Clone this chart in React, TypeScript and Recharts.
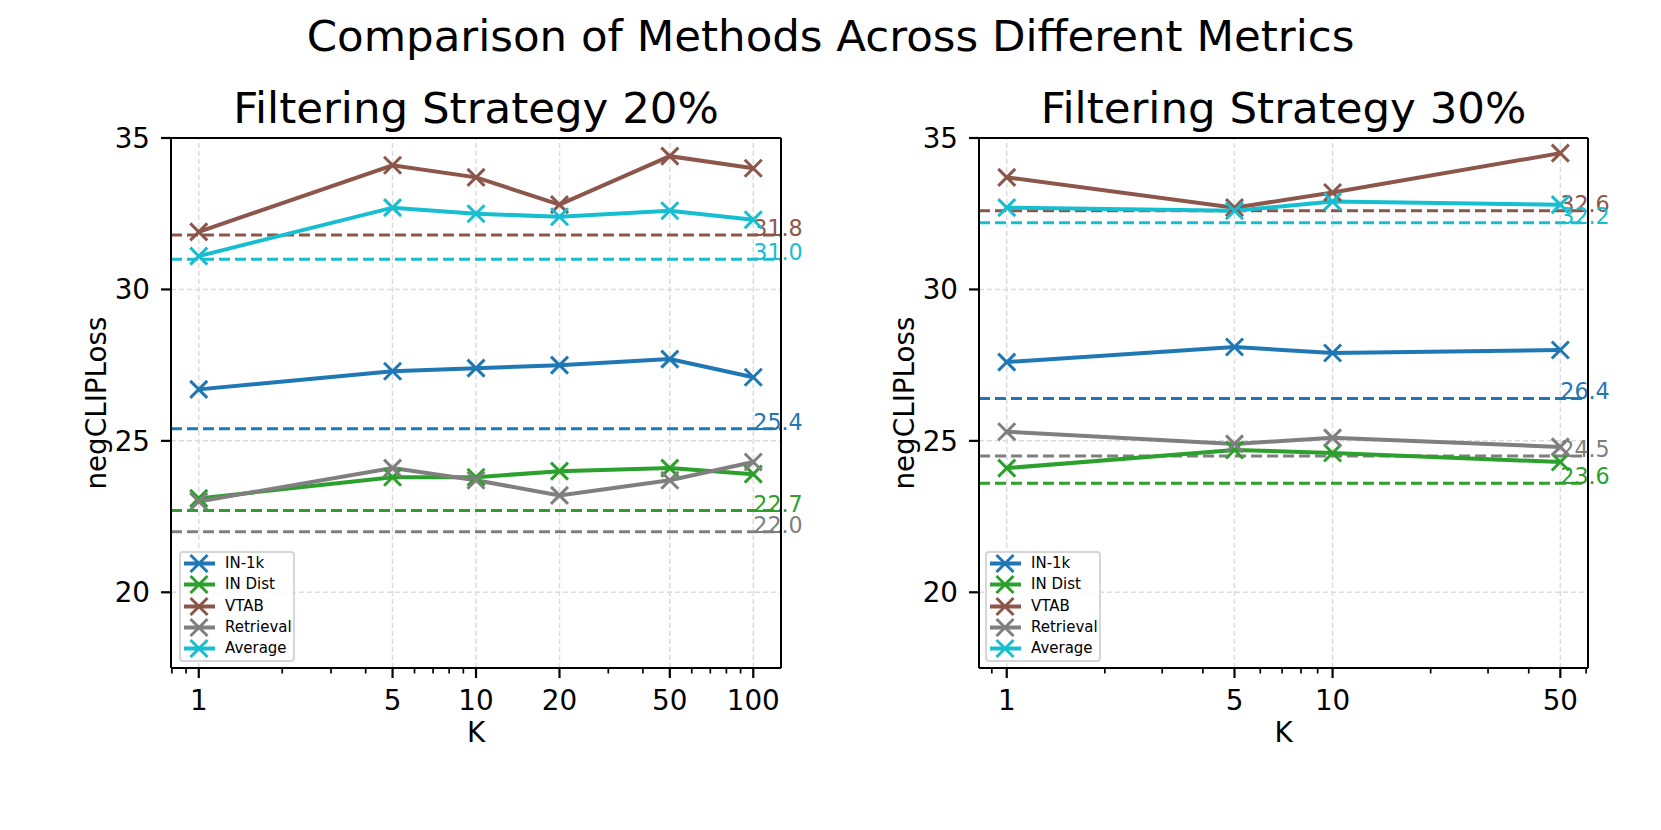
import React from 'react';
import { LineChart, Line, XAxis, YAxis, CartesianGrid, ReferenceLine, ReferenceDot, Legend } from 'recharts';

const FONT = '"DejaVu Sans", sans-serif';

// ---- Data ----
const SERIES_KEYS = ['in1k', 'indist', 'vtab', 'retrieval', 'average'];
const SERIES_NAMES = ['IN-1k', 'IN Dist', 'VTAB', 'Retrieval', 'Average'];
const SERIES_COLORS = ['#1f77b4', '#2ca02c', '#8c564b', '#7f7f7f', '#17becf'];

// Filtering Strategy 20%
const K_20 = [1, 5, 10, 20, 50, 100];
const IN1K_20 = [26.7, 27.3, 27.4, 27.5, 27.7, 27.1];
const INDIST_20 = [23.1, 23.8, 23.8, 24.0, 24.1, 23.9];
const VTAB_20 = [31.9, 34.1, 33.7, 32.8, 34.4, 34.0];
const RETRIEVAL_20 = [23.0, 24.1, 23.7, 23.2, 23.7, 24.3];
const AVERAGE_20 = [31.1, 32.7, 32.5, 32.4, 32.6, 32.3];
const BASELINE_20 = [25.4, 22.7, 31.8, 22.0, 31.0];

// Filtering Strategy 30%
const K_30 = [1, 5, 10, 50];
const IN1K_30 = [27.6, 28.1, 27.9, 28.0];
const INDIST_30 = [24.1, 24.7, 24.6, 24.3];
const VTAB_30 = [33.7, 32.7, 33.2, 34.5];
const RETRIEVAL_30 = [25.3, 24.9, 25.1, 24.8];
const AVERAGE_30 = [32.7, 32.6, 32.9, 32.8];
const BASELINE_30 = [26.4, 23.6, 32.6, 24.5, 32.2];

// Axes
const Y_TICKS = [20, 25, 30, 35];
const Y_DOMAIN = [17.5, 35];
const X_DOMAIN_20 = [0.794, 125.9];
const X_DOMAIN_30 = [0.822, 60.8];
const MINOR_20 = [0.8, 0.9, 2, 3, 4, 6, 7, 8, 9, 30, 40, 60, 70, 80, 90];
const MINOR_30 = [0.9, 2, 3, 4, 6, 7, 8, 9, 20, 30, 40, 60];

const MAIN_TITLE = 'Comparison of Methods Across Different Metrics';
const TITLE_20 = 'Filtering Strategy 20%';
const TITLE_30 = 'Filtering Strategy 30%';
const Y_LABEL = 'negCLIPLoss';
const X_LABEL = 'K';

function buildRows(ks: number[], series: number[][]) {
  return ks.map((k, i) => {
    const row: any = { K: k };
    SERIES_KEYS.forEach((key, j) => {
      row[key] = series[j][i];
    });
    return row;
  });
}

const DATA_20 = buildRows(K_20, [IN1K_20, INDIST_20, VTAB_20, RETRIEVAL_20, AVERAGE_20]);
const DATA_30 = buildRows(K_30, [IN1K_30, INDIST_30, VTAB_30, RETRIEVAL_30, AVERAGE_30]);

const GRID_COLOR = '#dcdcdc';

const makeXMarker = (color: string) => (props: any) => {
  const { cx, cy, index } = props;
  if (cx == null || cy == null) return <g key={`m-${index}`} />;
  const h = 8.5;
  return (
    <g key={`m-${index}`}>
      <line x1={cx - h} y1={cy - h} x2={cx + h} y2={cy + h} stroke={color} strokeWidth={3} />
      <line x1={cx - h} y1={cy + h} x2={cx + h} y2={cy - h} stroke={color} strokeWidth={3} />
    </g>
  );
};

const makeXTick = (majors: number[]) => (props: any) => {
  const { x, y, payload } = props;
  const isMajor = majors.includes(payload.value);
  return (
    <g>
      <line x1={x} x2={x} y1={y} y2={y + (isMajor ? 10 : 5.5)} stroke="#000" strokeWidth={isMajor ? 2.2 : 1.7} />
      {isMajor && (
        <text x={x} y={y + 42} textAnchor="middle" fontSize={27.8} fontFamily={FONT} fill="#000">
          {payload.value}
        </text>
      )}
    </g>
  );
};

const LegendBox = () => (
  <div
    style={{
      width: 116,
      height: 111,
      boxSizing: 'border-box',
      border: '2px solid #d6d6d6',
      borderRadius: 4,
      background: 'rgba(255,255,255,0.8)',
      paddingTop: 0,
      fontFamily: FONT,
      fontSize: 15,
      color: '#000',
    }}
  >
    {SERIES_NAMES.map((name, i) => (
      <div key={name} style={{ display: 'flex', alignItems: 'center', height: 21.25 }}>
        <svg width={36} height={21} style={{ display: 'block', flex: 'none' }}>
          <line x1={3} x2={34} y1={10.5} y2={10.5} stroke={SERIES_COLORS[i]} strokeWidth={4} />
          <line x1={18 - 8.5} y1={2} x2={18 + 8.5} y2={19} stroke={SERIES_COLORS[i]} strokeWidth={3} />
          <line x1={18 - 8.5} y1={19} x2={18 + 8.5} y2={2} stroke={SERIES_COLORS[i]} strokeWidth={3} />
        </svg>
        <span style={{ marginLeft: 8, lineHeight: 1, whiteSpace: 'nowrap' }}>{name}</span>
      </div>
    ))}
  </div>
);

const makeValueLabel = (color: string, value: number) => (props: any) => {
  const vb = props.viewBox || {};
  const cx = (vb.x || 0) + (vb.width || 0) / 2;
  const cy = (vb.y || 0) + (vb.height || 0) / 2;
  return (
    <text x={cx} y={cy + 1} textAnchor="start" fontSize={22.2} fontFamily={FONT} fill={color}>
      {value.toFixed(1)}
    </text>
  );
};

type PanelProps = {
  left: number;
  mLeft: number;
  mRight: number;
  data: any[];
  ks: number[];
  minors: number[];
  domain: number[];
  baselines: number[];
  legendLeft: number;
};

function Panel({ left, mLeft, mRight, data, ks, minors, domain, baselines, legendLeft }: PanelProps) {
  const allTicks = [...minors, ...ks].sort((a, b) => a - b);
  const lastK = ks[ks.length - 1];
  return (
    <div style={{ position: 'absolute', left, top: 0, width: 830, height: 830 }}>
      <LineChart width={830} height={830} data={data} margin={{ top: 138, right: mRight, bottom: 102, left: mLeft }}>
        <CartesianGrid vertical={false} stroke={GRID_COLOR} strokeDasharray="5 3" strokeWidth={1.5} />
        {ks.map((k) => (
          <ReferenceLine key={`vg-${k}`} x={k} stroke={GRID_COLOR} strokeDasharray="5 3" strokeWidth={1.5} />
        ))}
        <XAxis
          dataKey="K"
          type="number"
          scale="log"
          domain={domain}
          allowDataOverflow
          ticks={allTicks}
          interval={0}
          tick={makeXTick(ks)}
          tickLine={false}
          tickSize={0}
          tickMargin={0}
          height={60}
          axisLine={{ stroke: '#000', strokeWidth: 2 }}
        />
        <YAxis
          type="number"
          domain={Y_DOMAIN}
          allowDataOverflow
          ticks={Y_TICKS}
          interval={0}
          width={70}
          tickSize={10}
          tickMargin={11}
          tickLine={{ stroke: '#000', strokeWidth: 2.2 }}
          axisLine={{ stroke: '#000', strokeWidth: 2 }}
          tick={{ fill: '#000', fontSize: 27.8, fontFamily: FONT }}
        />
        {baselines.map((b, i) => (
          <ReferenceLine
            key={`bl-${i}`}
            y={b}
            stroke={SERIES_COLORS[i]}
            strokeDasharray="11 5"
            strokeWidth={3}
          />
        ))}
        {SERIES_KEYS.map((key, i) => (
          <Line
            key={key}
            dataKey={key}
            name={SERIES_NAMES[i]}
            type="linear"
            stroke={SERIES_COLORS[i]}
            strokeWidth={4}
            dot={makeXMarker(SERIES_COLORS[i])}
            activeDot={false}
            isAnimationActive={false}
          />
        ))}
        {/* top and right spines */}
        <ReferenceLine y={Y_DOMAIN[1]} stroke="#000" strokeWidth={2} ifOverflow="visible" />
        <ReferenceLine x={domain[1]} stroke="#000" strokeWidth={2} ifOverflow="visible" />
        {baselines.map((b, i) => (
          <ReferenceDot
            key={`bd-${i}`}
            x={lastK}
            y={b}
            r={0.01}
            fill="none"
            stroke="none"
            label={{ content: makeValueLabel(SERIES_COLORS[i], b) }}
          />
        ))}
        <Legend
          layout="vertical"
          align="center"
          verticalAlign="middle"
          content={() => <LegendBox />}
          wrapperStyle={{ left: legendLeft, top: 551, right: 'auto', bottom: 'auto', width: 116, height: 111 }}
        />
      </LineChart>
    </div>
  );
}

const textAt = (x: number, y: number, size: number, text: string, rotate = 0) => (
  <div
    style={{
      position: 'absolute',
      left: x,
      top: y,
      transform: `translate(-50%, -50%) rotate(${rotate}deg)`,
      fontFamily: FONT,
      fontSize: size,
      lineHeight: 1,
      whiteSpace: 'nowrap',
      color: '#000',
    }}
  >
    {text}
  </div>
);

export default function App() {
  return (
    <div style={{ position: 'absolute', left: 0, top: 0, width: 1661, height: 830, background: '#fff', overflow: 'hidden' }}>
      <Panel
        left={0}
        mLeft={101}
        mRight={49}
        data={DATA_20}
        ks={K_20}
        minors={MINOR_20}
        domain={X_DOMAIN_20}
        baselines={BASELINE_20}
        legendLeft={179}
      />
      <Panel
        left={830}
        mLeft={79}
        mRight={72}
        data={DATA_30}
        ks={K_30}
        minors={MINOR_30}
        domain={X_DOMAIN_30}
        baselines={BASELINE_30}
        legendLeft={155}
      />
      {textAt(830.5, 37, 43.5, MAIN_TITLE)}
      {textAt(476, 109, 43.5, TITLE_20)}
      {textAt(1283.5, 109, 43.5, TITLE_30)}
      {textAt(97, 403, 27.8, Y_LABEL, -90)}
      {textAt(905, 403, 27.8, Y_LABEL, -90)}
      {textAt(476, 733, 27.8, X_LABEL)}
      {textAt(1283.5, 733, 27.8, X_LABEL)}
    </div>
  );
}
